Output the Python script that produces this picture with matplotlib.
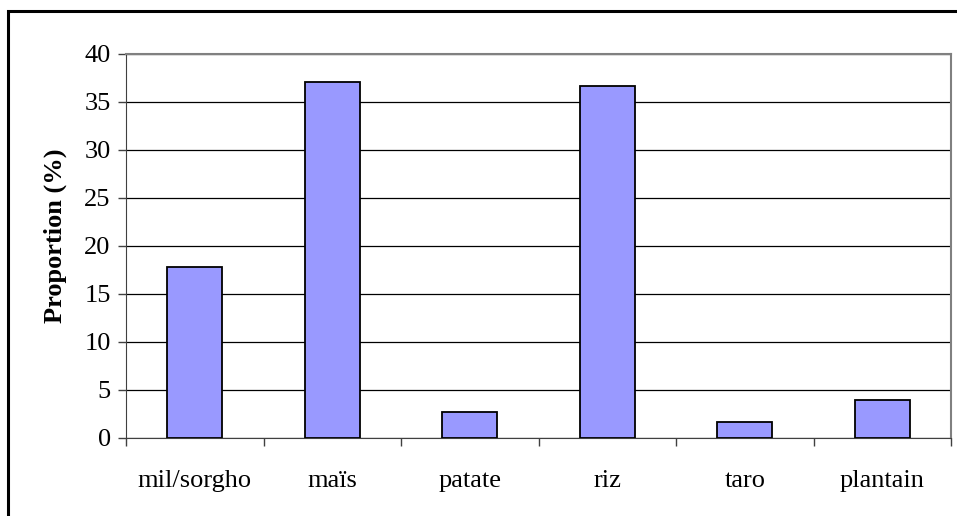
import matplotlib.pyplot as plt
from matplotlib.patches import Rectangle

categories = ["mil/sorgho", "maïs", "patate", "riz", "taro", "plantain"]
proportions = [17.8, 37.1, 2.7, 36.7, 1.7, 4.0]

plt.rcParams['font.family'] = ['Liberation Serif', 'DejaVu Serif']

fig = plt.figure(figsize=(9.57, 5.16), dpi=100)
W, H = 957, 516
ax = fig.add_axes([126 / W, 1 - 438 / H, (951 - 126) / W, (438 - 54) / H])

# outer chart frame (cut off at right and bottom)
fig.patches.append(Rectangle((8 / W, -0.1), 1.2, 1.1 - 11 / H, transform=fig.transFigure,
                             fill=False, edgecolor='black', linewidth=2.2, zorder=0))

x = list(range(len(categories)))
ax.bar(x, proportions, width=0.4, color='#9999FF', edgecolor='black', linewidth=1.3, zorder=3)

ax.set_xlim(-0.5, len(categories) - 0.5)
ax.set_ylim(0, 40)
ax.set_yticks(range(0, 41, 5))
ax.yaxis.grid(True, color='black', linewidth=0.9, zorder=0)
ax.set_axisbelow(True)

ax.set_xticks([i - 0.5 for i in range(len(categories) + 1)])
ax.set_xticklabels([])
ax.set_xticks(x, minor=True)
ax.set_xticklabels(categories, minor=True, fontsize=19)
ax.tick_params(axis='x', which='minor', length=0, pad=23)
ax.tick_params(axis='x', which='major', length=6, width=1, color='#404040', direction='out')
ax.tick_params(axis='y', length=6, width=1, color='#404040', labelsize=19, pad=5)

for side in ['top', 'right']:
    ax.spines[side].set_color('#808080')
    ax.spines[side].set_linewidth(1.5)
ax.spines['left'].set_color('#404040')
ax.spines['bottom'].set_color('#404040')

ax.set_ylabel("Proportion (%)", fontsize=19, fontweight='bold')
ax.yaxis.set_label_coords(-0.072, 0.526)

fig.savefig("out.png", dpi=100)
